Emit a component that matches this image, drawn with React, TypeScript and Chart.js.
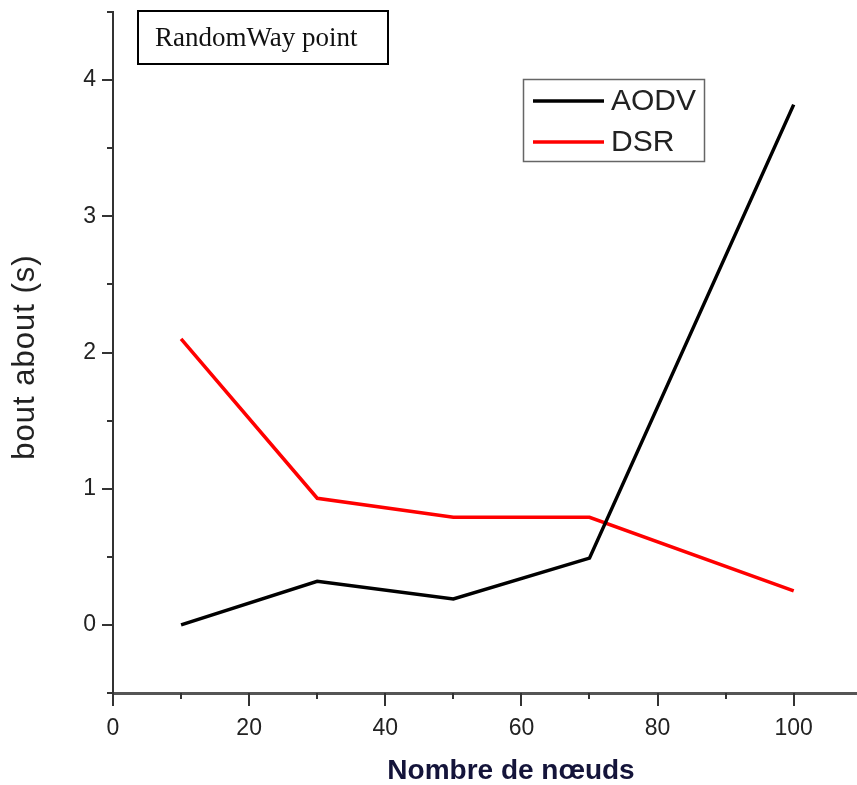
import React, { useEffect, useRef } from "react";
import { Chart, registerables } from "chart.js";

Chart.register(...registerables);

const nodes = [10, 30, 50, 70, 100];
const aodv = [0.0, 0.32, 0.19, 0.49, 3.82];
const dsr = [2.1, 0.93, 0.79, 0.79, 0.25];
const seriesNames = ["AODV", "DSR"];
const seriesColors = ["#000000", "#ff0000"];
const xMajorTicks = [0, 20, 40, 60, 80, 100];
const xMinorTicks = [10, 30, 50, 70, 90];
const yMajorTicks = [0, 1, 2, 3, 4];
const yMinorTicks = [-0.5, 0.5, 1.5, 2.5, 3.5, 4.5];
const boxTitle = "RandomWay point";
const xTitle = "Nombre de nœuds";
const yTitle = "bout about (s)";

const SANS = "'Liberation Sans', Arial, sans-serif";

const decor = {
  id: "decor",
  afterDraw(chart: any) {
    const ctx = chart.ctx as CanvasRenderingContext2D;
    const xs = chart.scales.x;
    const ys = chart.scales.y;
    const ca = chart.chartArea;
    ctx.save();

    // tick marks
    ctx.strokeStyle = "#333";
    ctx.lineWidth = 2;
    const drawY = (v: number, len: number) => {
      const p = Math.round(ys.getPixelForValue(v));
      ctx.beginPath();
      ctx.moveTo(ca.left - len, p);
      ctx.lineTo(ca.left, p);
      ctx.stroke();
    };
    yMajorTicks.forEach((v) => drawY(v, 11));
    yMinorTicks.forEach((v) => drawY(v, 6));
    const drawX = (v: number, len: number) => {
      const p = Math.round(xs.getPixelForValue(v));
      ctx.beginPath();
      ctx.moveTo(p, ca.bottom);
      ctx.lineTo(p, ca.bottom + len);
      ctx.stroke();
    };
    xMajorTicks.forEach((v) => drawX(v, 13));
    xMinorTicks.forEach((v) => drawX(v, 6));

    // title box
    ctx.strokeStyle = "#000";
    ctx.lineWidth = 2;
    ctx.strokeRect(138, 11, 250, 53);
    ctx.fillStyle = "#111";
    ctx.font = "27px 'Liberation Serif', 'Times New Roman', serif";
    ctx.textBaseline = "middle";
    ctx.textAlign = "left";
    ctx.fillText(boxTitle, 155, 39);

    // legend
    ctx.strokeStyle = "#666";
    ctx.lineWidth = 1.5;
    ctx.strokeRect(523.5, 79.5, 181, 82);
    ctx.font = "30px " + SANS;
    chart.data.datasets.forEach((ds: any, i: number) => {
      const y = 101 + i * 41;
      ctx.strokeStyle = ds.borderColor;
      ctx.lineWidth = 3.5;
      ctx.beginPath();
      ctx.moveTo(533, y);
      ctx.lineTo(604, y);
      ctx.stroke();
      ctx.fillStyle = "#222";
      ctx.fillText(ds.label, 611, y + 1);
    });

    // x title
    ctx.fillStyle = "#14143a";
    ctx.font = "bold 28px " + SANS;
    ctx.textAlign = "center";
    ctx.fillText(xTitle, 511, 771);

    // y title
    ctx.save();
    ctx.translate(25, 357);
    ctx.rotate(-Math.PI / 2);
    ctx.fillStyle = "#222";
    ctx.font = "31px " + SANS;
    (ctx as any).letterSpacing = "1px";
    ctx.textAlign = "center";
    ctx.textBaseline = "middle";
    ctx.fillText(yTitle, 0, 0);
    ctx.restore();

    ctx.restore();
  },
};

export default function App() {
  const ref = useRef<HTMLCanvasElement>(null);
  useEffect(() => {
    if (!ref.current) return;
    const chart = new Chart(ref.current, {
      type: "line",
      data: {
        datasets: [
          {
            label: seriesNames[0],
            data: nodes.map((x, i) => ({ x, y: aodv[i] })),
            borderColor: seriesColors[0],
            borderWidth: 3.5,
            pointRadius: 0,
            tension: 0,
          },
          {
            label: seriesNames[1],
            data: nodes.map((x, i) => ({ x, y: dsr[i] })),
            borderColor: seriesColors[1],
            borderWidth: 3.5,
            pointRadius: 0,
            tension: 0,
          },
        ],
      },
      plugins: [decor],
      options: {
        animation: false,
        responsive: false,
        layout: { padding: { top: 12, left: 0, right: 0, bottom: 0 } },
        plugins: { legend: { display: false }, tooltip: { enabled: false } },
        scales: {
          x: {
            type: "linear",
            min: 0,
            max: 109.3,
            afterBuildTicks: (s: any) => {
              s.ticks = xMajorTicks.map((v) => ({ value: v }));
            },
            afterFit: (s: any) => {
              s.height = 92;
              s.paddingLeft = 0;
              s.paddingRight = 0;
            },
            grid: { display: false, drawTicks: false },
            border: { display: true, color: "#555", width: 3 },
            ticks: {
              padding: 22,
              color: "#222",
              font: { size: 23, family: SANS },
              maxRotation: 0,
            },
          },
          y: {
            type: "linear",
            min: -0.5,
            max: 4.5,
            afterBuildTicks: (s: any) => {
              s.ticks = yMajorTicks.map((v) => ({ value: v }));
            },
            afterFit: (s: any) => {
              s.width = 113;
              s.paddingTop = 0;
              s.paddingBottom = 0;
            },
            grid: { display: false, drawTicks: false },
            border: { display: true, color: "#333", width: 2 },
            ticks: {
              padding: 17,
              color: "#222",
              font: { size: 23, family: SANS },
            },
          },
        },
      },
    });
    return () => chart.destroy();
  }, []);
  return (
    <div style={{ position: "absolute", left: 0, top: 0, width: 857, height: 785, background: "#fff" }}>
      <canvas ref={ref} width={857} height={785} style={{ display: "block" }} />
    </div>
  );
}
